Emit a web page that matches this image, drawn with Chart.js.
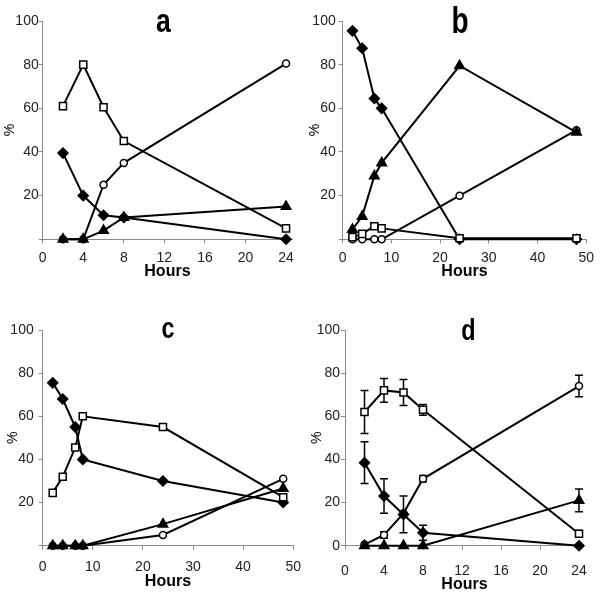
<!DOCTYPE html>
<html>
<head>
<meta charset="utf-8">
<script src="https://cdn.jsdelivr.net/npm/chart.js@4.4.0/dist/chart.umd.min.js"></script>
<style>
  body { margin: 0; background: #fff; }
  #wrap { position: relative; width: 600px; height: 596px; overflow: hidden; }
  canvas { position: absolute; }
</style>
</head>
<body>
<div id="wrap">
  <canvas id="chartA" width="300" height="296" style="left:0;top:0"></canvas>
  <canvas id="chartB" width="300" height="296" style="left:300px;top:0"></canvas>
  <canvas id="chartC" width="310" height="306" style="left:0;top:290px"></canvas>
  <canvas id="chartD" width="300" height="306" style="left:300px;top:290px"></canvas>
</div>
<script>
// panel a
const hoursA = [2, 4, 6, 8, 24];
const aSquare = [61, 80, 60.5, 45, 5];
const aCircle = [0, 0, 25, 35, 80.5];
const aDiamond = [39.5, 20, 11, 10, 0];
const aTriangle = [0, 0, 4, 10, 15];

// panel b
const hoursB = [2, 4, 6.5, 8, 24, 48];
const bDiamond = [95.5, 87.5, 64.5, 60, 0, 0];
const bTriangle = [4.5, 10.5, 29, 35, 79.5, 49];
const bCircle = [0, 0, 0, 0, 20, 50];
const bSquare = [1, 2.5, 6, 5, 0.5, 0.5];

// panel c
const hoursC = [2, 4, 6.5, 8, 24, 48];
const cDiamond = [75.5, 68, 55, 40, 30, 20];
const cSquare = [24.5, 32, 45.5, 60, 55, 22.5];
const cTriangle = [0, 0, 0, 0, 10, 26.5];
const cCircle = [0, 0, 0, 0, 5, 31];

// panel d (mean and +/- error)
const hoursD = [2, 4, 6, 8, 24];
const dSquare = [62, 72, 71, 63, 5.5];
const dSquareErr = [10, 5.5, 6, 2.5, 1.5];
const dCircle = [0.5, 5, 15, 31, 74];
const dCircleErr = [0, 1.5, 0, 1.5, 5];
const dDiamond = [38.5, 23, 14.5, 6, 0];
const dDiamondErr = [9.7, 8, 8.5, 3.5, 0];
const dTriangle = [0, 0, 0, 0, 21];
const dTriangleErr = [0, 0, 0, 0, 5.3];

// axis ticks
const yTicks = [0, 20, 40, 60, 80, 100];
const xTicks24 = [0, 4, 8, 12, 16, 20, 24];
const xTicks50 = [0, 10, 20, 30, 40, 50];

const FONT = "'Liberation Sans', Arial, sans-serif";
const NARROW = "'Liberation Sans Narrow', 'Liberation Sans', Arial, sans-serif";

const markers = {
  square:   { pointStyle: 'rect',     pointRadius: 5,   pointBackgroundColor: '#fff' },
  circle:   { pointStyle: 'circle',   pointRadius: 3.5, pointBackgroundColor: '#fff' },
  diamond:  { pointStyle: 'rectRot',  pointRadius: 5,   pointBackgroundColor: '#000' },
  triangle: { pointStyle: 'triangle', pointRadius: 5.5, pointBackgroundColor: '#000' }
};

// first dataset in a list ends up drawn on top
function series(hours, values, kind, errors) {
  return Object.assign({
    data: hours.map((h, i) => ({ x: h, y: values[i] })),
    errors: errors,
    borderColor: '#000',
    borderWidth: 2,
    pointBorderColor: '#000',
    pointBorderWidth: 1.5,
    tension: 0,
    fill: false,
    clip: false
  }, markers[kind]);
}

// error bars for panel d, drawn through the scales
const errorBars = {
  id: 'errorBars',
  beforeDatasetsDraw(chart) {
    const ctx = chart.ctx, xs = chart.scales.x, ys = chart.scales.y;
    ctx.save();
    ctx.strokeStyle = '#000';
    ctx.lineWidth = 1.5;
    chart.data.datasets.forEach(ds => {
      if (!ds.errors) return;
      ds.data.forEach((p, j) => {
        const e = ds.errors[j];
        if (!e) return;
        const px = xs.getPixelForValue(p.x);
        const top = ys.getPixelForValue(p.y + e);
        const bot = ys.getPixelForValue(p.y - e);
        ctx.beginPath();
        ctx.moveTo(px, top); ctx.lineTo(px, bot);
        ctx.moveTo(px - 4, top); ctx.lineTo(px + 4, top);
        ctx.moveTo(px - 4, bot); ctx.lineTo(px + 4, bot);
        ctx.stroke();
      });
    });
    ctx.restore();
  }
};

// big panel letter
const panelLetter = {
  id: 'panelLetter',
  afterDraw(chart, args, opts) {
    const ctx = chart.ctx;
    ctx.save();
    ctx.fillStyle = '#000';
    ctx.font = 'bold ' + opts.size + 'px ' + FONT;
    ctx.textAlign = 'center';
    ctx.textBaseline = 'alphabetic';
    ctx.translate(opts.x, opts.y);
    ctx.scale(0.78, 1);
    ctx.fillText(opts.text, 0, 0);
    ctx.restore();
  }
};

function makeChart(id, datasets, cfg) {
  new Chart(document.getElementById(id), {
    type: 'line',
    data: { datasets: datasets },
    plugins: [errorBars, panelLetter],
    options: {
      responsive: false,
      animation: false,
      layout: { padding: cfg.padding },
      plugins: {
        legend: { display: false },
        tooltip: { enabled: false },
        panelLetter: cfg.letter
      },
      scales: {
        x: {
          type: 'linear',
          min: 0,
          max: cfg.xMax,
          afterBuildTicks: s => { s.ticks = cfg.xTicks.map(v => ({ value: v })); },
          afterFit: s => { s.height = cfg.xHeight; },
          border: { display: true, color: '#8a8a8a', width: 1 },
          grid: { drawOnChartArea: false, drawTicks: true, tickLength: 4, color: '#8a8a8a' },
          ticks: { color: '#222', font: { family: FONT, size: 14 }, padding: cfg.xPad, maxRotation: 0, autoSkip: false },
          title: { display: true, text: 'Hours', color: '#000', font: { family: NARROW, size: 16, weight: 'bold' }, padding: { top: 0, bottom: cfg.hoursPad } }
        },
        y: {
          min: 0,
          max: 100,
          afterBuildTicks: s => { s.ticks = yTicks.map(v => ({ value: v })); },
          afterFit: s => { s.width = cfg.yWidth; },
          border: { display: true, color: '#8a8a8a', width: 1 },
          grid: { drawOnChartArea: false, drawTicks: true, tickLength: 4, color: '#8a8a8a' },
          ticks: {
            color: '#222',
            font: { family: FONT, size: 14 },
            padding: cfg.yPad,
            callback: v => (v === 0 && !cfg.showZero) ? '' : v
          },
          title: { display: true, text: '%', color: '#000', font: { family: FONT, size: 14 }, padding: { top: cfg.pctPad, bottom: 0 } }
        }
      }
    }
  });
}

makeChart('chartA', [
  series(hoursA, aTriangle, 'triangle'),
  series(hoursA, aDiamond, 'diamond'),
  series(hoursA, aCircle, 'circle'),
  series(hoursA, aSquare, 'square')
], {
  padding: { left: 0, top: 21, right: 7, bottom: 0 },
  xMax: 24.6, xTicks: xTicks24, xHeight: 56.7, xPad: 6, hoursPad: 14.4,
  yWidth: 42.7, yPad: 0, pctPad: 1.6, showZero: false,
  letter: { text: 'a', x: 163.3, y: 32.3, size: 34 }
});

makeChart('chartB', [
  series(hoursB, bTriangle, 'triangle'),
  series(hoursB, bSquare, 'square'),
  series(hoursB, bDiamond, 'diamond'),
  series(hoursB, bCircle, 'circle')
], {
  padding: { left: 0, top: 21, right: 10.7, bottom: 0 },
  xMax: 50, xTicks: xTicks50, xHeight: 56.7, xPad: 6, hoursPad: 14.7,
  yWidth: 42.7, yPad: 3, pctPad: 6.6, showZero: false,
  letter: { text: 'b', x: 160, y: 33.3, size: 36 }
});

makeChart('chartC', [
  series(hoursC, cTriangle, 'triangle'),
  series(hoursC, cSquare, 'square'),
  series(hoursC, cDiamond, 'diamond'),
  series(hoursC, cCircle, 'circle')
], {
  padding: { left: 0, top: 40, right: 16, bottom: 0 },
  xMax: 50, xTicks: xTicks50, xHeight: 50.3, xPad: 9, hoursPad: 4.7,
  yWidth: 42.7, yPad: 5, pctPad: 4.6, showZero: false,
  letter: { text: 'c', x: 168, y: 48.3, size: 30 }
});

makeChart('chartD', [
  series(hoursD, dTriangle, 'triangle', dTriangleErr),
  series(hoursD, dDiamond, 'diamond', dDiamondErr),
  series(hoursD, dSquare, 'square', dSquareErr),
  series(hoursD, dCircle, 'circle', dCircleErr)
], {
  padding: { left: 0, top: 40, right: 10, bottom: 0 },
  xMax: 24.5, xTicks: xTicks24, xHeight: 50.3, xPad: 13, hoursPad: 1.4,
  yWidth: 45, yPad: 1, pctPad: 9.1, showZero: true,
  letter: { text: 'd', x: 168.3, y: 50, size: 30 }
});
</script>
</body>
</html>
